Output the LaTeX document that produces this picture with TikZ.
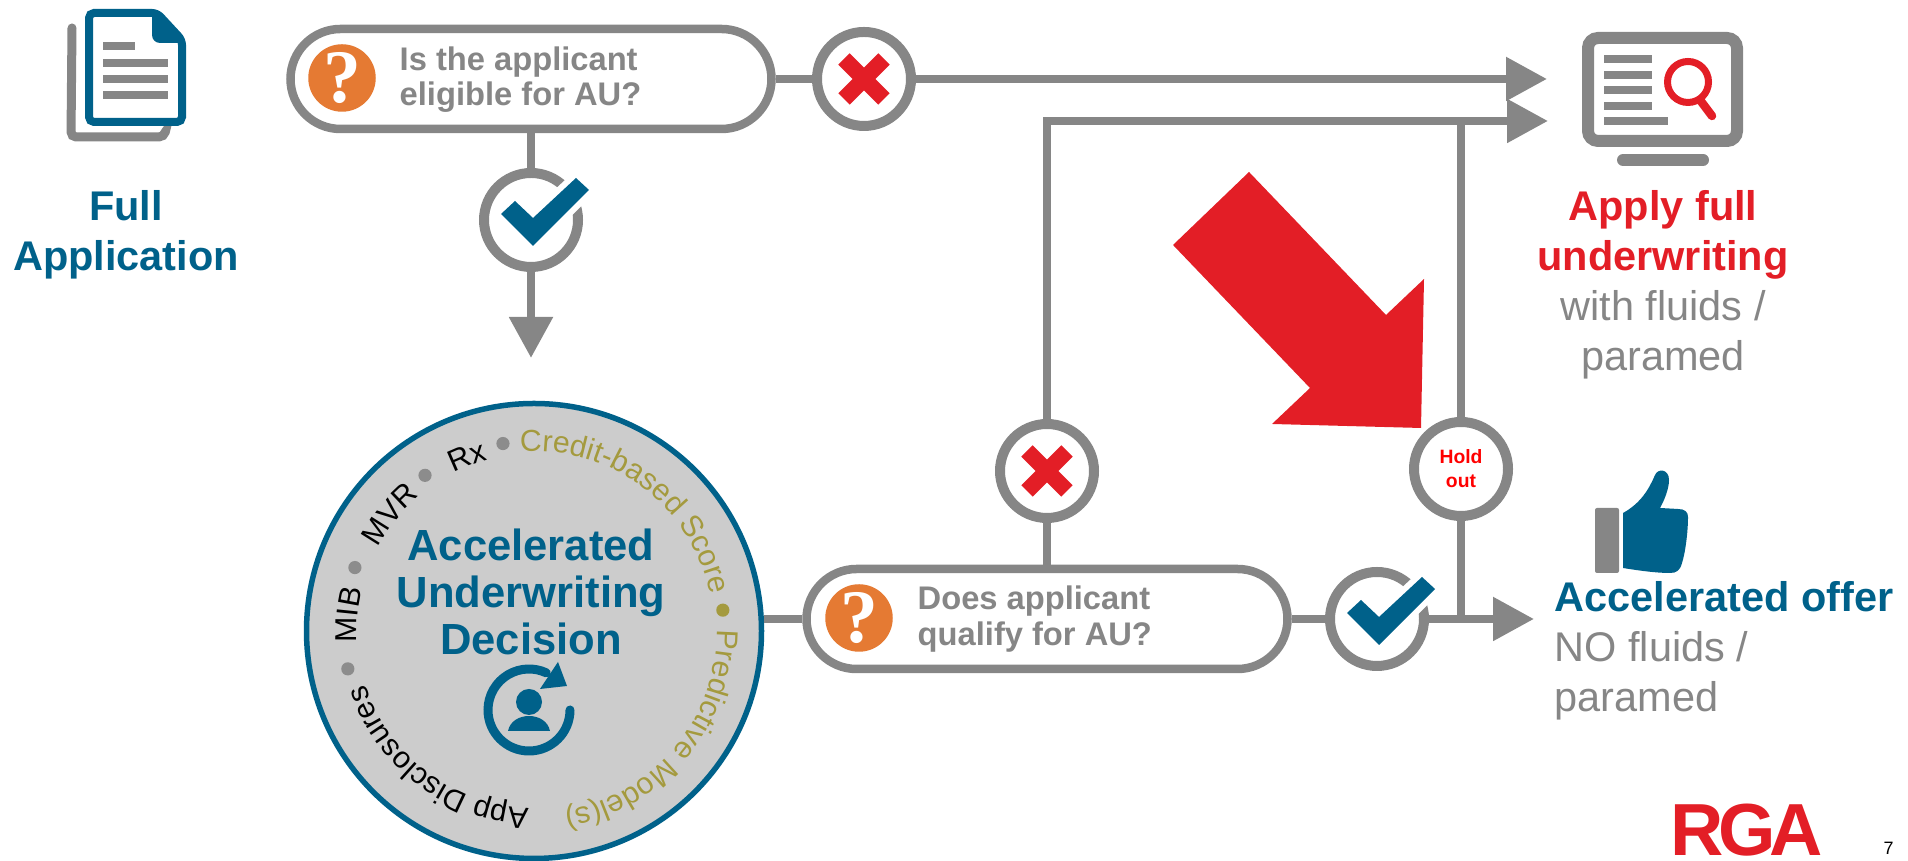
\documentclass[tikz,border=0pt]{standalone}
\usepackage{fontspec}
\setmainfont{Liberation Sans}
\newfontfamily\markfont{Liberation Serif}
\usepackage{tkz-euclide}
\usetikzlibrary{arrows.meta,decorations.text}
\definecolor{rgagray}{HTML}{868686}
\definecolor{rgablue}{HTML}{00618A}
\definecolor{rgared}{HTML}{E31E26}
\definecolor{rgaolive}{HTML}{A49A3E}
\definecolor{rgaorange}{HTML}{E57A33}
\newcommand\arcfont{\fontsize{8.6}{10}\selectfont}
\newcommand\arctext[5]{\path[decorate,decoration={text along path,text align=center,text color=#1,text={|\arcfont|#2}}](K)++(#3:#5)arc[start angle=#3,end angle=#4,radius=#5];}
\tikzset{
line/.style={rgagray,line width=.085cm},
arrow/.style={line,-{Triangle[length=.41cm,width=.42cm]}},
ask/.style={draw=rgagray,line width=.085cm,fill=white,rounded corners=.5cm,minimum width=4.81cm,minimum height=1cm},
ring/.style={draw=rgagray,line width=.1cm,fill=white,circle,minimum size=.94cm,inner sep=0pt},
quest/.style={circle,fill=rgaorange,minimum size=.675cm,inner sep=0pt,text=white,font=\markfont\fontsize{21.5}{21.5}\selectfont\bfseries},
asktext/.style={anchor=west,inner sep=0pt,align=left,text=rgagray,font=\fontsize{9.3}{10}\selectfont\bfseries},
big/.style={inner sep=0pt,align=center,font=\fontsize{11.8}{14.3}\selectfont},
tickmark/.pic={\fill[rgablue,preaction={draw=white,line width=.12cm}](-.30,.06)--(-.16,.19)--(.02,.02)--(.45,.42)--(.58,.30)--(.02,-.26)--cycle;},
crossmark/.pic={\draw[rgared,line width=.16cm](-.2,.2)--(.2,-.2)(-.2,-.2)--(.2,.2);}
}
\begin{document}
\begin{tikzpicture}[line join=miter]
\tkzInit[xmin=0,xmax=19.08,ymin=0,ymax=8.61]
\tkzClip
\tkzDefPoints{5.31/7.82/A,5.31/6.41/B,5.31/5.03/C,8.64/7.82/D,15.47/7.82/E,15.48/7.40/F,10.47/3.90/G,14.61/3.92/H,10.47/2.42/I,13.77/2.42/J,15.34/2.42/L,5.34/2.30/K,3.42/7.83/M,8.59/2.43/N}
\node[ask](askA) at (A){};
\node[ask](askB) at (I){};
\node[quest](questA) at (M){?};
\node[quest](questB) at (N){?};
\node[asktext](textA) at (3.99,7.81){Is the applicant\\eligible for AU?};
\node[asktext](textB) at (9.17,2.42){Does applicant\\qualify for AU?};
\node[ring](okA) at (B){};
\node[ring](noA) at (D){};
\node[ring](noB) at (G){};
\node[ring](okB) at (J){};
\node[ring,align=center,text=red,font=\fontsize{5.5}{6.8}\selectfont\bfseries](hold) at (H){Hold\\out};
\node[circle,draw=rgablue,fill=black!20,line width=.055cm,minimum size=4.55cm,inner sep=0pt](decide) at (K){};
\draw[line](askA)--(okA);
\draw[arrow](okA)--(C);
\draw[line](askA)--(noA);
\draw[arrow](noA)--(E);
\draw[arrow](noB.north)|-(F);
\draw[line](hold.north)--(hold.north|-F);
\draw[line](noB)--(askB);
\draw[line](askB)--(okB);
\draw[arrow](okB)--(L);
\draw[line](hold.south)--(hold.south|-L);
\draw[line](askB.west)--(decide.east|-askB.west);
\path(B)pic{tickmark}(J)pic{tickmark}(D)pic{crossmark}(G)pic{crossmark};
\fill[rgared](12.49,6.89)--(11.73,6.16)--(13.10,4.73)--(12.72,4.37)--(14.21,4.33)--(14.24,5.82)--(13.86,5.46)--cycle;
\draw[rgagray,line width=.09cm,line cap=round,rounded corners=.05cm](.72,8.33)--(.71,7.24)--(1.64,7.24)--(1.65,7.28);
\draw[rgablue,fill=white,line width=.08cm,rounded corners=.05cm](.89,8.48)--(1.57,8.48)--(1.82,8.21)--(1.82,7.39)--(.89,7.39)--cycle;
\fill[rgablue](1.52,8.48)--(1.57,8.48)--(1.82,8.21)--(1.79,8.18)--(1.60,8.18)to[out=180,in=-90](1.52,8.26)--cycle;
\foreach \y/\w in {8.15/1.35,7.98/1.68,7.82/1.68,7.66/1.68}\draw[rgagray,line width=.085cm](1.03,\y)--(\w,\y);
\node[big,text=rgablue,anchor=base](full) at (1.26,5.90){\bfseries Full\\\bfseries Application};
\draw[rgagray,line width=.12cm,rounded corners=.1cm](15.88,8.23)rectangle(17.37,7.20);
\draw[rgagray,line width=.12cm,line cap=round](16.23,7.01)--(17.03,7.01);
\foreach \y/\w in {8.02/16.52,7.86/16.52,7.71/16.52,7.55/16.52,7.40/16.68}\draw[rgagray,line width=.08cm](16.04,\y)--(\w,\y);
\draw[rgared,line width=.07cm](16.88,7.79)circle(.205);
\draw[rgared,line width=.085cm,line cap=round](17.00,7.61)--(17.12,7.45);
\node[big,anchor=base](apply) at (16.63,4.90){\textcolor{rgared}{\bfseries Apply full}\\\textcolor{rgared}{\bfseries underwriting}\\\textcolor{rgagray}{with fluids /}\\\textcolor{rgagray}{paramed}};
\fill[rgagray,rounded corners=.02cm](15.95,3.53)rectangle(16.19,2.88);
\fill[rgablue](16.23,3.48)..controls(16.41,3.58)and(16.49,3.72)..(16.55,3.86)..controls(16.58,3.93)and(16.69,3.92)..(16.69,3.81)..controls(16.69,3.72)and(16.64,3.60)..(16.60,3.53)--(16.78,3.52)..controls(16.85,3.52)and(16.88,3.49)..(16.88,3.44)..controls(16.88,3.28)and(16.85,3.07)..(16.82,2.98)..controls(16.80,2.90)and(16.76,2.88)..(16.70,2.88)..controls(16.55,2.88)and(16.35,2.91)..(16.23,2.93)--cycle;
\node[big,anchor=base west,align=left](offer) at (15.54,1.49){\textcolor{rgablue}{\bfseries Accelerated offer}\\\textcolor{rgagray}{NO fluids /}\\\textcolor{rgagray}{paramed}};
\node[anchor=base west,inner sep=0pt,text=rgared,font=\fontsize{21}{21}\selectfont\bfseries](logo) at (16.70,.05){R\kern-.08em G\kern-.08em A};
\node[anchor=base west,inner sep=0pt,font=\fontsize{5.1}{6}\selectfont](page) at (18.83,.06){7};
\node[big,text=rgablue,anchor=base,font=\fontsize{12.4}{13.5}\selectfont\bfseries](decision) at (5.31,2.06){Accelerated\\Underwriting\\Decision};
\draw[rgablue,line width=.09cm,line cap=round](5.29,1.51)++(0:.41)arc[start angle=0,end angle=-295,radius=.41];
\fill[rgablue](5.58,1.99)--(5.67,1.75)--(5.40,1.72)--cycle;
\fill[rgablue](5.29,1.59)circle(.13);
\fill[rgablue](5.08,1.30)..controls(5.12,1.50)and(5.46,1.50)..(5.50,1.30)--cycle;
\foreach \a/\c in {6.3/rgaolive,99.4/black!45,125/black!45,160.5/black!45,191.5/black!45}\fill[\c](K)++(\a:1.9)circle(.066);
\arctext{rgaolive}{Credit-based Score}{106}{0}{1.80}
\arctext{rgaolive}{Predictive Model(s)}{12}{-92}{1.83}
\arctext{black}{App Disclosures}{-80}{-174}{1.77}
\arctext{black}{MIB}{190}{160}{1.77}
\arctext{black}{MVR}{160}{122}{1.77}
\arctext{black}{Rx}{125}{97}{1.77}
\end{tikzpicture}
\end{document}
